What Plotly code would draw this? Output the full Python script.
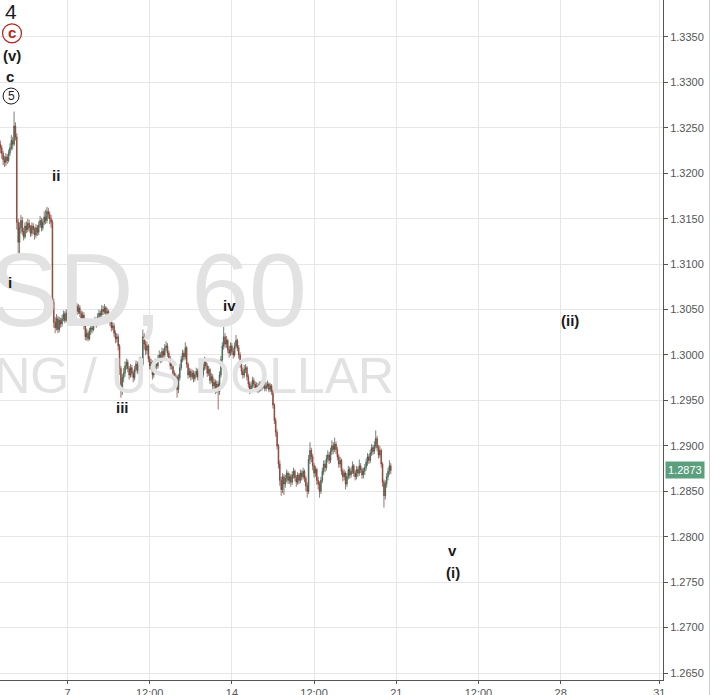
import plotly.graph_objects as go

# ---- data (prices in 1e-4 units, hourly bars) ----
first_open = 13232
closes = [
13228,13222,13215,13212,13218,13214,13222,13228,13236,13232,
13252,13240,13146,13124,13140,13148,13136,13130,13142,13138,
13145,13140,13134,13142,13138,13132,13140,13135,13143,13148,
13140,13146,13152,13148,13158,13155,13150,13146,13058,13036,
13030,13040,13028,13038,13034,13040,13045,13038,13046,13050,
13044,13052,13048,13055,13050,13054,13048,13052,13046,13040,
13044,13032,13020,13024,13018,13026,13030,13028,13035,13038,
13034,13042,13046,13044,13050,13048,13052,13046,13048,13040,
13036,13030,13032,13024,13018,13020,13010,12985,12962,12975,
12980,12988,12992,12985,12978,12986,12980,12975,12984,12990,
12983,12988,12994,12990,13020,13012,13005,13010,12996,12988,
12992,12978,12986,12992,12988,12996,13000,12995,13004,13000,
13008,13010,13002,12996,12988,12992,12980,12972,12976,12962,
12975,12986,12995,13002,12998,13008,12990,12978,12982,12976,
12980,12974,12978,12982,12976,12980,12984,12978,12986,12994,
12988,12980,12984,12972,12976,12966,12970,12962,12968,12960,
12978,12995,13010,13020,13012,13016,13006,13002,13010,13004,
13000,13010,13016,13008,13000,12990,12982,12978,12984,12986,
12976,12968,12962,12966,12972,12968,12964,12966,12962,12968,
12964,12966,12970,12963,12966,12968,12962,12966,12960,12945,
12928,12915,12900,12880,12862,12852,12866,12858,12864,12870,
12862,12866,12860,12868,12872,12865,12860,12868,12862,12870,
12866,12872,12864,12856,12850,12885,12895,12888,12878,12870,
12874,12862,12858,12850,12862,12872,12880,12876,12886,12890,
12884,12894,12900,12896,12902,12896,12888,12880,12884,12872,
12866,12870,12858,12866,12874,12868,12872,12878,12870,12866,
12874,12870,12878,12874,12868,12872,12876,12882,12888,12884,
12892,12898,12894,12900,12908,12898,12890,12895,12880,12860,
12845,12858,12866,12872,12878,12873]
highs = [
13236,13231,13225,13219,13222,13221,13226,13233,13242,13240,
13268,13256,13244,13150,13146,13154,13152,13140,13146,13147,
13150,13149,13143,13146,13145,13141,13144,13143,13147,13153,
13151,13150,13158,13160,13163,13162,13158,13154,13149,13062,
13042,13045,13043,13042,13041,13044,13049,13048,13050,13055,
13053,13056,13055,13058,13059,13058,13057,13056,13055,13049,
13048,13047,13035,13029,13027,13030,13034,13034,13039,13042,
13041,13046,13050,13049,13055,13054,13056,13054,13052,13050,
13043,13039,13036,13035,13027,13024,13023,13012,12988,12979,
12986,12993,12996,12995,12988,12990,12989,12983,12988,12994,
12993,12992,12998,12997,13028,13024,13016,13015,13012,12999,
12996,12994,12990,12996,12995,13000,13005,13003,13008,13007,
13012,13015,13013,13005,12999,12996,12994,12983,12980,12978,
12979,12990,12999,13006,13005,13014,13010,12992,12986,12985,
12984,12983,12982,12986,12985,12984,12988,12986,12990,12998,
12997,12991,12988,12986,12980,12979,12974,12973,12972,12971,
12982,12999,13014,13031,13024,13021,13018,13010,13014,13013,
13008,13014,13022,13018,13011,13003,12993,12986,12989,12990,
12988,12979,12971,12970,12976,12975,12971,12970,12969,12971,
12971,12970,12973,12972,12970,12972,12970,12969,12968,12962,
12947,12931,12918,12902,12884,12866,12870,12869,12868,12874,
12872,12870,12869,12872,12876,12874,12868,12871,12870,12874,
12873,12876,12874,12867,12860,12890,12904,12898,12891,12881,
12878,12876,12866,12861,12866,12876,12884,12884,12890,12895,
12893,12898,12906,12904,12909,12905,12899,12891,12888,12886,
12875,12874,12872,12870,12878,12877,12876,12883,12880,12873,
12878,12877,12885,12881,12876,12876,12880,12886,12892,12891,
12896,12902,12901,12905,12917,12911,12901,12900,12897,12882,
12863,12862,12870,12876,12884,12881]
lows = [
13222,13216,13209,13207,13208,13210,13212,13219,13225,13226,
13230,13236,13138,13112,13110,13134,13132,13126,13128,13134,
13135,13136,13130,13131,13133,13127,13129,13131,13132,13140,
13136,13137,13143,13144,13145,13150,13144,13140,13050,13030,
13024,13027,13024,13025,13030,13031,13037,13035,13036,13043,
13040,13042,13044,13045,13046,13047,13044,13045,13042,13036,
13037,13028,13016,13016,13015,13016,13022,13024,13026,13032,
13030,13032,13039,13040,13042,13044,13045,13042,13043,13036,
13032,13026,13027,13020,13013,13014,13005,12978,12953,12956,
12970,12976,12984,12981,12973,12975,12976,12970,12972,12981,
12979,12980,12985,12986,12988,13006,13000,13001,12992,12984,
12984,12973,12975,12983,12984,12985,12993,12991,12992,12996,
12997,13004,12998,12992,12984,12984,12976,12967,12968,12953,
12958,12972,12983,12992,12994,12995,12986,12974,12975,12972,
12973,12970,12971,12975,12972,12973,12977,12974,12975,12983,
12984,12976,12977,12968,12969,12962,12962,12957,12958,12940,
12956,12975,12992,13006,13008,13008,13002,12997,12999,13000,
12996,12998,13007,13004,12996,12986,12978,12974,12975,12980,
12972,12964,12957,12958,12963,12964,12960,12960,12958,12959,
12960,12961,12963,12960,12960,12963,12959,12959,12956,12941,
12924,12910,12896,12875,12856,12845,12848,12846,12854,12860,
12858,12858,12855,12857,12864,12861,12855,12857,12858,12859,
12862,12863,12860,12850,12843,12847,12880,12882,12873,12865,
12866,12857,12852,12843,12847,12859,12868,12871,12873,12882,
12880,12881,12890,12891,12893,12891,12884,12876,12876,12868,
12861,12862,12852,12855,12863,12864,12865,12869,12866,12862,
12863,12866,12867,12870,12864,12864,12868,12873,12878,12880,
12881,12889,12890,12891,12897,12894,12886,12887,12876,12855,
12832,12841,12854,12862,12868,12869]

tick_bars = [49, 109, 169, 229, 289, 349, 409, 481]
tick_text = ["7", "12:00", "14", "12:00", "21", "12:00", "28", "31"]
price_ticks = [1.2650, 1.2700, 1.2750, 1.2800, 1.2850, 1.2900, 1.2950,
               1.3000, 1.3050, 1.3100, 1.3150, 1.3200, 1.3250, 1.3300, 1.3350]
last_price = 1.2873

# wave labels: (text, bar, price)
wave_labels = [
    ("(v)", 8.5, 1.3330), ("c", 7.0, 1.3306), ("ii", 40.6, 1.3198),
    ("i", 7.0, 1.3080), ("iii", 89.5, 1.2942), ("iv", 167.0, 1.3054),
    ("(ii)", 415.8, 1.3038), ("v", 330.4, 1.2785), ("(i)", 330.4, 1.2761),
]

# ---- build OHLC ----
S = 10000.0
opens = [first_open] + closes[:-1]
o = [v / S for v in opens]
c = [v / S for v in closes]
h = [max(a, b, d) / S for a, b, d in zip(highs, opens, closes)]
l = [min(a, b, d) / S for a, b, d in zip(lows, opens, closes)]
xs = list(range(len(closes)))

fig = go.Figure()
lab_font = "Liberation Sans, Arial, sans-serif"

# watermark (drawn beneath candles)
fig.add_trace(go.Scatter(
    x=[223.8], y=[1.30603], mode="text", text=["GBPUSD, 60"],
    textposition="middle left",
    textfont=dict(family=lab_font, size=104, color="#e2e2e2"),
    hoverinfo="skip", showlegend=False, cliponaxis=False))
fig.add_trace(go.Scatter(
    x=[287.5], y=[1.29715], mode="text", text=["POUND STERLING / US DOLLAR"],
    textposition="middle left",
    textfont=dict(family=lab_font, size=50, color="#e2e2e2"),
    hoverinfo="skip", showlegend=False, cliponaxis=False))

fig.add_trace(go.Candlestick(
    x=xs, open=o, high=h, low=l, close=c,
    increasing=dict(line=dict(color="#34503f", width=0.7), fillcolor="#6BA583"),
    decreasing=dict(line=dict(color="#7a3328", width=0.7), fillcolor="#D75442"),
    whiskerwidth=0, showlegend=False, hoverinfo="skip"))

annotations = []
for txt, bx, py in wave_labels:
    annotations.append(dict(x=bx, y=py, xref="x", yref="y", text="<b>%s</b>" % txt,
                            showarrow=False, font=dict(family=lab_font, size=15, color="#1a1a1a")))
annotations.append(dict(x=7.8, y=1.3378, xref="x", yref="y", text="4", showarrow=False,
                        font=dict(family=lab_font, size=21, color="#1a1a1a")))
annotations.append(dict(x=8.5, y=1.3354, xref="x", yref="y", text="<b>c</b>", showarrow=False,
                        font=dict(family=lab_font, size=15, color="#b22a22"), yshift=1))
annotations.append(dict(x=7.8, y=1.3285, xref="x", yref="y", text="5", showarrow=False,
                        font=dict(family=lab_font, size=12, color="#1a1a1a")))
annotations.append(dict(x=1, y=last_price, xref="paper", yref="y", xanchor="left",
                        text="1.2873", showarrow=False, bgcolor="#5b9f7e",
                        font=dict(family=lab_font, size=11, color="#ffffff"),
                        borderpad=2, xshift=2))

shapes = [
    dict(type="circle", xref="x", yref="y", xsizemode="pixel", ysizemode="pixel",
         xanchor=8.5, yanchor=1.3354, x0=-9.5, x1=9.5, y0=-9.5, y1=9.5,
         line=dict(color="#b22a22", width=1.3)),
    dict(type="circle", xref="x", yref="y", xsizemode="pixel", ysizemode="pixel",
         xanchor=7.8, yanchor=1.3285, x0=-8, x1=8, y0=-8, y1=8,
         line=dict(color="#1a1a1a", width=1)),
    dict(type="line", xref="paper", yref="paper", x0=709.5 / 663, x1=709.5 / 663,
         y0=-15 / 680, y1=1, line=dict(color="#c8cdd6", width=1)),
]

fig.update_layout(
    width=713, height=695,
    margin=dict(l=0, r=50, t=0, b=15),
    paper_bgcolor="#ffffff", plot_bgcolor="#ffffff",
    showlegend=False,
    annotations=annotations, shapes=shapes,
    xaxis=dict(range=[-0.27, 483.7], tickmode="array", tickvals=tick_bars, ticktext=tick_text,
               showgrid=True, gridcolor="#e6e6e6", gridwidth=1, zeroline=False,
               showline=True, linecolor="#555555", linewidth=1,
               ticks="outside", ticklen=3, tickcolor="#555555",
               tickfont=dict(family=lab_font, size=11, color="#555555"),
               rangeslider=dict(visible=False), automargin=False, fixedrange=True),
    yaxis=dict(range=[1.26423, 1.33907], side="right", tickmode="array", tickvals=price_ticks,
               ticktext=["%.4f" % v for v in price_ticks],
               showgrid=True, gridcolor="#e6e6e6", gridwidth=1, zeroline=False,
               showline=True, linecolor="#555555", linewidth=1,
               ticks="outside", ticklen=4, tickcolor="#555555",
               tickfont=dict(family=lab_font, size=11, color="#555555"),
               automargin=False, fixedrange=True),
)

fig.write_html("out.html", config={"displayModeBar": False},
               post_script="document.body.style.margin='0';document.body.style.overflow='hidden';")
